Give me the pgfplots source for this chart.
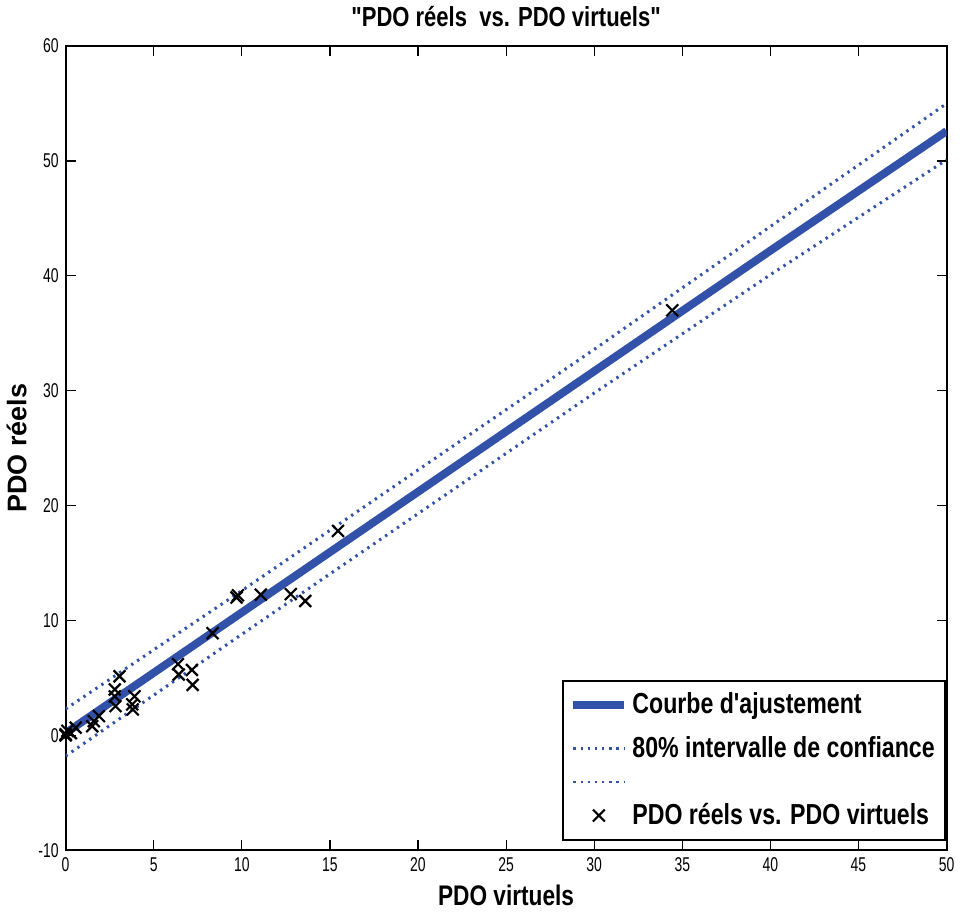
\documentclass[border=0pt]{standalone}
\usepackage{pgfplots}
\pgfplotsset{compat=1.18}
\usepackage{fontspec}
\setmainfont{Liberation Sans}[FakeStretch=0.8, Ligatures=TeXOff]
\newfontfamily\tickfont{Liberation Sans}[FakeStretch=0.7]
\newfontfamily\ylabfont{Liberation Sans}
\definecolor{fitblue}{RGB}{49,82,168}
\pgfplotsset{
    lineleg/.style={legend image code/.code={\draw[##1] (0cm,0cm) -- (0.9cm,0cm);}},
    markleg/.style={legend image code/.code={\draw[mark repeat=2,mark phase=2,##1] plot coordinates {(0cm,0cm) (0.45cm,0cm) (0.9cm,0cm)};}},
}

\begin{document}
\begin{tikzpicture}
\begin{axis}[
    scale only axis,
    width=441.5pt, height=403pt,
    xmin=0, xmax=50, ymin=-10, ymax=60,
    xtick={0,5,...,50}, ytick={-10,0,10,...,60},
    tick align=inside, major tick length=5pt,
    axis line style={line width=1pt},
    tick style={line width=0.6pt, black},
    /pgf/number format/assume math mode=true,
    tick label style={font=\tickfont\fontsize{10}{12}\selectfont},
    title={\bfseries "PDO réels\ \ vs. PDO virtuels"},
    title style={font=\fontsize{13.8}{16}\selectfont, yshift=0pt},
    xlabel={\bfseries PDO virtuels},
    xlabel style={font=\fontsize{14.2}{16}\selectfont, yshift=0pt},
    ylabel={\ylabfont\bfseries PDO réels},
    ylabel style={font=\fontsize{13.5}{15}\selectfont, yshift=-1pt},
    legend style={at={(rel axis cs:0.999,0.012)}, anchor=south east,
        draw=black, line width=1pt, font=\fontsize{14.5}{16}\selectfont\bfseries,
        row sep=6pt, inner xsep=3pt, inner ysep=4pt},
    legend cell align=left,
]
\addplot[fitblue, line width=4pt, lineleg] coordinates {
    (0,0.2) (10,10.7) (20,21.2) (30,31.7) (40,42.2) (50,52.6)
};
\addlegendentry{Courbe d'ajustement}
\addplot[fitblue, line width=1.5pt, dash pattern=on 1.2pt off 2.4pt, lineleg] coordinates {
    (0,2.3) (10,12.6) (20,23.1) (30,33.6) (40,44.3) (50,55.0)
};
\addlegendentry{80\% intervalle de confiance}
\addplot[fitblue, line width=1.5pt, dash pattern=on 1.2pt off 2.4pt, lineleg] coordinates {
    (0,-1.8) (10,8.8) (20,19.3) (30,29.8) (40,40.1) (50,50.1)
};
\addlegendentry{}
\addplot[only marks, mark=x, mark size=4.2pt, black, mark options={line width=1.1pt}, markleg] coordinates {
    (0,0) (0,0.1) (0.1,0.4) (0.3,0.2) (0.57,0.67)
    (1.51,0.8) (1.6,1.24) (1.89,1.68)
    (2.79,4.0) (2.79,3.4) (2.83,2.55) (3.06,5.15)
    (3.78,2.7) (3.81,2.26) (3.91,3.4)
    (6.38,6.2) (6.42,5.3) (7.17,5.7) (7.21,4.4)
    (8.34,8.9) (9.7,12.0) (9.78,12.2) (11.08,12.25)
    (12.78,12.3) (13.6,11.7) (15.46,17.8) (34.43,37.0)
};
\addlegendentry{PDO réels vs. PDO virtuels}
\end{axis}
\end{tikzpicture}
\end{document}
